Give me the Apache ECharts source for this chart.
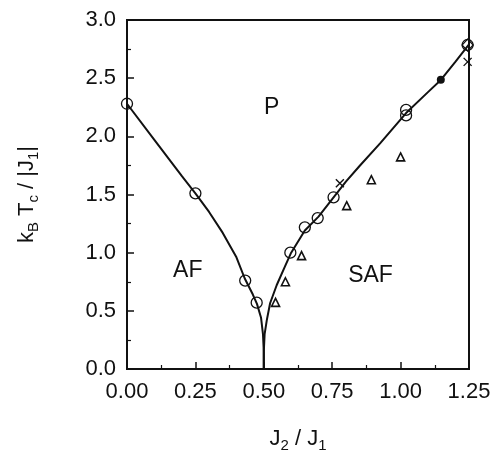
<!DOCTYPE html>
<html>
<head>
<meta charset="utf-8">
<script src="https://cdn.jsdelivr.net/npm/echarts@6/dist/echarts.min.js"></script>
<style>
  html, body { margin: 0; padding: 0; background: #fff; }
  #chart { width: 490px; height: 455px; }
</style>
</head>
<body>
<div id="chart"></div>
<script>
// phase boundary lines
const leftBoundary = [
  [0, 2.28], [0.1, 1.97], [0.2, 1.66], [0.25, 1.51], [0.3, 1.35],
  [0.35, 1.17], [0.4, 0.96], [0.43, 0.78], [0.46, 0.64], [0.475, 0.56],
  [0.49, 0.44], [0.497, 0.3], [0.5, 0.15], [0.5, 0],
];
const rightBoundary = [
  [0.5, 0], [0.5, 0.15], [0.503, 0.3], [0.511, 0.42], [0.523, 0.565],
  [0.547, 0.72], [0.575, 0.87], [0.6, 1.0], [0.65, 1.19], [0.7, 1.31],
  [0.75, 1.46], [0.8, 1.61], [0.85, 1.745], [0.925, 1.94], [1.02, 2.2],
  [1.1, 2.38], [1.147, 2.485], [1.2, 2.64], [1.25, 2.79],
];
// data points
const circlePts = [
  [0, 2.28], [0.25, 1.51], [0.432, 0.76], [0.474, 0.57], [0.597, 1.0],
  [0.65, 1.218], [0.697, 1.297], [0.755, 1.476], [1.02, 2.227],
  [1.02, 2.18], [1.245, 2.785],
];
const trianglePts = [
  [0.543, 0.573], [0.579, 0.75], [0.638, 0.975], [0.803, 1.404],
  [0.893, 1.627], [1.0, 1.823],
];
const diamondPts = [[1.245, 2.785]];
const crossPts = [[0.778, 1.596], [1.245, 2.64]];
const filledPts = [[1.147, 2.487]];
// phase labels
const regionLabels = [
  { name: "P", value: [0.529, 2.25] },
  { name: "AF", value: [0.222, 0.845] },
  { name: "SAF", value: [0.89, 0.8] },
];

const font = "'Liberation Sans', Arial, sans-serif";
const ink = "#111";

const myChart = echarts.init(document.getElementById("chart"));

const axisCommon = {
  type: "value",
  axisLine: { show: true, lineStyle: { color: ink, width: 2 } },
  axisTick: { show: true, inside: true, length: 7, lineStyle: { color: ink, width: 1.5 } },
  minorTick: { show: true, splitNumber: 2, length: 4, lineStyle: { color: ink, width: 1.2 } },
  splitLine: { show: false },
  axisLabel: { color: ink, fontSize: 22, fontFamily: font },
  nameLocation: "middle",
  nameTextStyle: {
    color: ink,
    fontFamily: font,
    rich: {
      m: { fontSize: 22, fontFamily: font, color: ink, lineHeight: 28 },
      s: { fontSize: 15, fontFamily: font, color: ink, verticalAlign: "bottom", lineHeight: 15 },
    },
  },
};

const option = {
  animation: false,
  grid: {
    left: 127, right: 21, top: 20, bottom: 86,
    outerBoundsMode: "none",
    show: true, borderColor: ink, borderWidth: 2,
  },
  xAxis: Object.assign({}, axisCommon, {
    min: 0, max: 1.25, interval: 0.25,
    axisLabel: Object.assign({}, axisCommon.axisLabel, {
      margin: 12,
      formatter: (v) => v.toFixed(2),
    }),
    name: "{m|J}{s|2}{m| / J}{s|1}",
    nameGap: 56,
  }),
  yAxis: Object.assign({}, axisCommon, {
    min: 0, max: 3, interval: 0.5,
    axisLabel: Object.assign({}, axisCommon.axisLabel, {
      margin: 11,
      formatter: (v) => v.toFixed(1),
    }),
    name: "{m|k}{s|B}{m| T}{s|c}{m| / |J}{s|1}{m||}",
    nameRotate: 90,
    nameGap: 86,
  }),
  series: [
    {
      type: "line", data: leftBoundary, symbol: "none",
      lineStyle: { color: ink, width: 2 }, z: 2,
    },
    {
      type: "line", data: rightBoundary, symbol: "none",
      lineStyle: { color: ink, width: 2 }, z: 2,
    },
    {
      type: "scatter", data: circlePts, symbol: "circle", symbolSize: 11,
      itemStyle: { color: "rgba(0,0,0,0)", borderColor: ink, borderWidth: 1.3, opacity: 1 }, z: 3,
    },
    {
      type: "scatter", data: trianglePts, symbol: "triangle", symbolSize: 8,
      itemStyle: { color: "#fff", borderColor: ink, borderWidth: 1.6, opacity: 1 }, z: 3,
    },
    {
      type: "scatter", data: diamondPts, symbol: "diamond", symbolSize: [11, 12],
      itemStyle: { color: "rgba(0,0,0,0)", borderColor: ink, borderWidth: 1.2, opacity: 1 }, z: 4,
    },
    {
      type: "scatter", data: crossPts, symbol: "path://M0,0L10,10M10,0L0,10", symbolSize: 8,
      itemStyle: { color: "none", borderColor: ink, borderWidth: 1.4, opacity: 1 }, z: 4,
    },
    {
      type: "scatter", data: filledPts, symbol: "circle", symbolSize: 8,
      itemStyle: { color: ink, opacity: 1 }, z: 4,
    },
    {
      type: "scatter", data: regionLabels, symbolSize: 0, silent: true,
      itemStyle: { opacity: 1 },
      label: {
        show: true, position: "inside", formatter: "{b}",
        color: ink, fontSize: 23, fontFamily: font, textBorderWidth: 0,
      },
    },
  ],
};

myChart.setOption(option);
</script>
</body>
</html>
